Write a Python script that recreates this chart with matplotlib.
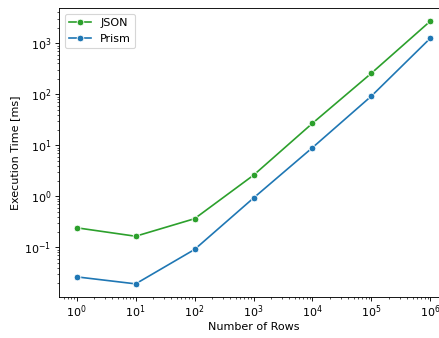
import matplotlib
matplotlib.use('Agg')
import matplotlib.pyplot as plt

rows = [1, 10, 100, 1000, 10000, 100000, 1000000]
json_ms = [0.243, 0.166, 0.366, 2.6, 27, 258, 2700]
prism_ms = [0.0266, 0.0194, 0.0914, 0.93, 9.0, 92, 1250]

# drawn at 80 dpi so fonts, ticks and pads scale the same way
fig = plt.figure(figsize=(439/80, 338/80), dpi=80)
ax = fig.add_axes([59/439, 41/338, 389/439, 289/338])

ax.plot(rows, json_ms, marker='o', color='#2ca02c', ms=6, mec='white', mew=0.75, lw=1.5, label='JSON')
ax.plot(rows, prism_ms, marker='o', color='#1f77b4', ms=6, mec='white', mew=0.75, lw=1.5, label='Prism')

ax.set_xscale('log')
ax.set_yscale('log')
ax.tick_params(axis='x', pad=2.5)
ax.set_xlabel('Number of Rows', labelpad=1.5)
ax.set_ylabel('Execution Time [ms]')
ax.legend(loc='upper left')

fig.savefig('out.png', dpi=80)
